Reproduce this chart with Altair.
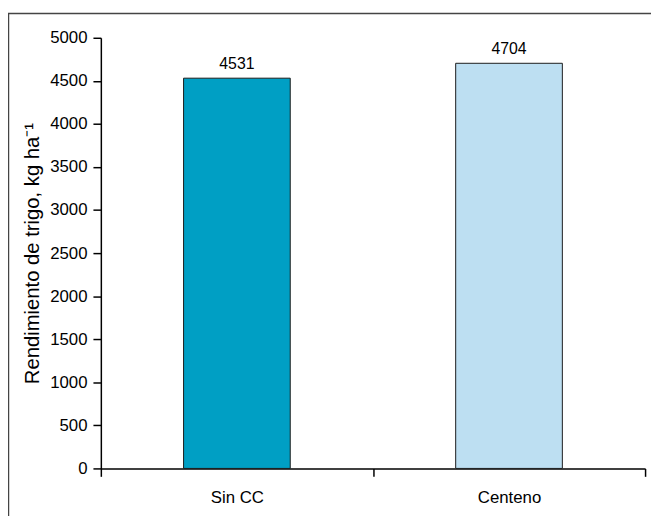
import altair as alt
import pandas as pd

categories = ["Sin CC", "Centeno"]
values = [4531, 4704]
bar_colors = ["#009fc4", "#bddff2"]
y_ticks = [0, 500, 1000, 1500, 2000, 2500, 3000, 3500, 4000, 4500, 5000]
y_title = "Rendimiento de trigo, kg ha⁻¹"

df = pd.DataFrame({"trat": categories, "rend": values, "color": bar_colors})

FONT = "Liberation Sans"

x_enc = alt.X(
    "trat:N",
    sort=categories,
    scale=alt.Scale(paddingInner=0, paddingOuter=0),
    axis=alt.Axis(
        title=None,
        labelAngle=0,
        tickBand="extent",
        tickSize=8,
        tickWidth=1.5,
        labelPadding=13,
        domainWidth=1.5,
    ),
)
y_enc = alt.Y(
    "rend:Q",
    scale=alt.Scale(domain=[0, 5000], nice=False),
    axis=alt.Axis(
        values=y_ticks,
        format="d",
        title=y_title,
        titleFontSize=20.5,
        titleFontWeight="normal",
        titleFont=FONT,
        titleColor="black",
        titlePadding=7,
        tickSize=8,
        tickWidth=1.5,
        labelPadding=6,
        domainWidth=1.5,
        grid=False,
    ),
)

base = alt.Chart(df)

border = alt.Chart(pd.DataFrame({"k": [0]})).mark_rect(
    fill="transparent", stroke="#444444", strokeWidth=1.5
).encode(
    x=alt.value(-93.5), x2=alt.value(700), y=alt.value(-24.5), y2=alt.value(600)
)

bars = base.mark_bar(
    width=alt.RelativeBandSize(0.392), stroke="#1a1a1a", strokeWidth=1
).encode(
    x=x_enc,
    y=y_enc,
    color=alt.Color("color:N", scale=None),
)

labels = base.mark_text(
    baseline="bottom", dy=-6, fontSize=16, font=FONT, color="black"
).encode(
    x=x_enc,
    y=y_enc,
    text=alt.Text("rend:Q", format="d"),
)

chart = (
    alt.layer(border, bars, labels)
    .properties(
        width=551,
        height=436,
        padding={"left": 94, "top": 27, "right": 6, "bottom": 45},
        autosize=alt.AutoSizeParams(type="none"),
    )
    .configure_view(strokeOpacity=0)
    .configure_axis(
        labelFont=FONT,
        labelFontSize=17,
        labelColor="black",
        domainColor="black",
        tickColor="black",
    )
)

chart.save("out.html", embed_options={"renderer": "svg", "actions": False})
